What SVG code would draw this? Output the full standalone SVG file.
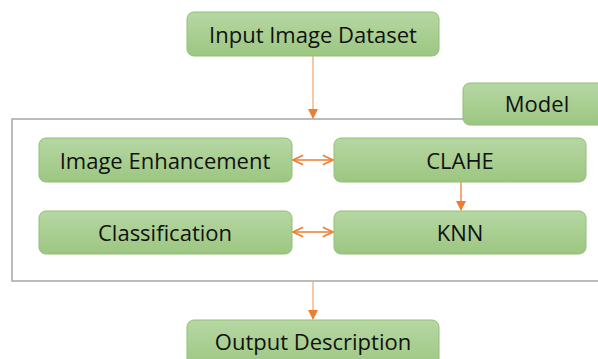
<svg xmlns="http://www.w3.org/2000/svg" width="598" height="359" viewBox="0 0 598 359">
<defs>
<linearGradient id="g" x1="0" y1="0" x2="0" y2="1">
<stop offset="0" stop-color="#b6d7a3"/>
<stop offset="1" stop-color="#9cc681"/>
</linearGradient>
<marker id="tri" viewBox="0 0 10 10" refX="9" refY="5" markerWidth="10" markerHeight="10" markerUnits="userSpaceOnUse" orient="auto">
<path d="M0,0 L10,5 L0,10 z" fill="#ed7d31"/>
</marker>
<marker id="open" viewBox="0 0 10 10" refX="9.5" refY="5" markerWidth="12" markerHeight="12" markerUnits="userSpaceOnUse" orient="auto-start-reverse">
<path d="M1,1 L9.5,5 L1,9" fill="none" stroke="#ed7d31" stroke-width="1.3"/>
</marker>
</defs>
<style>
.box{fill:url(#g);stroke:#90c074;stroke-width:1}
.t{font-family:"Open Sans","Liberation Sans",sans-serif;font-size:22px;fill:#111;text-anchor:middle}
.lt{stroke:#f5b589;stroke-width:1.5;fill:none}
.ln{stroke:#ed7d31;stroke-width:1.3;fill:none}
</style>
<rect x="12" y="119" width="600" height="162" fill="none" stroke="#a6a6a6" stroke-width="1.5"/>
<g id="connectors">
<line class="lt" x1="313" y1="56" x2="313" y2="118" marker-end="url(#tri)"/>
<line class="lt" x1="313" y1="282" x2="313" y2="319" marker-end="url(#tri)"/>
<line class="ln" x1="293" y1="160" x2="333" y2="160" marker-start="url(#open)" marker-end="url(#open)"/>
<line class="ln" x1="293" y1="232" x2="333" y2="232" marker-start="url(#open)" marker-end="url(#open)"/>
<line class="ln" x1="461" y1="182" x2="461" y2="210" marker-end="url(#tri)"/>
</g>
<g id="input"><rect class="box" x="187" y="12" width="252" height="44" rx="7"/><text class="t" x="313" y="43">Input Image Dataset</text></g>
<g id="model"><rect class="box" x="463" y="83" width="150" height="42" rx="7"/><text class="t" x="537" y="112">Model</text></g>
<g id="enh"><rect class="box" x="39" y="138" width="253" height="44" rx="7"/><text class="t" x="165" y="169">Image Enhancement</text></g>
<g id="clahe"><rect class="box" x="334" y="138" width="252" height="44" rx="7"/><text class="t" x="460" y="169">CLAHE</text></g>
<g id="cls"><rect class="box" x="39" y="211" width="253" height="43" rx="7"/><text class="t" x="165" y="241">Classification</text></g>
<g id="knn"><rect class="box" x="334" y="211" width="252" height="43" rx="7"/><text class="t" x="460" y="241">KNN</text></g>
<g id="output"><rect class="box" x="187" y="320" width="252" height="50" rx="7"/><text class="t" x="313" y="350">Output Description</text></g>
</svg>
